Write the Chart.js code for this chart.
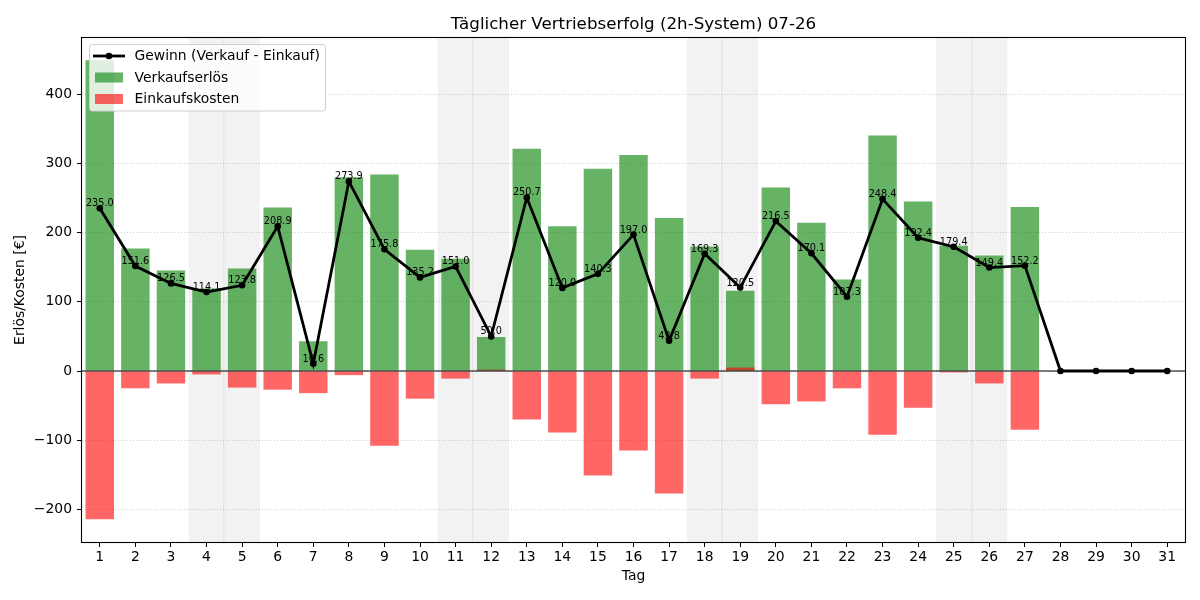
<!DOCTYPE html>
<html><head><meta charset="utf-8">
<script src="https://cdn.jsdelivr.net/npm/chart.js@4.4.0/dist/chart.umd.min.js"></script>
<style>html,body{margin:0;padding:0;background:#fff}canvas{display:block}</style>
</head><body>
<canvas id="c" width="1200" height="600"></canvas>
<script>
const days = ['1','2','3','4','5','6','7','8','9','10','11','12','13','14','15','16','17','18','19','20','21','22','23','24','25','26','27','28','29','30','31'];
const revenue = [449,177,145,119,148,236,43,280,284,175,162,49,321,209,292,312,221,180,116,265,214,132,340,245,181,167,237,0,0,0,0];
const cost = [214,25,18,5,24,27,32,6,108,40,11,-2,70,89,151,115,177,11,-5,48,44,25,92,53,2,18,85,0,0,0,0];
const profit = [235.0,151.6,126.5,114.1,123.8,208.9,10.6,273.9,175.8,135.2,151.0,50.0,250.7,120.0,140.3,197.0,43.8,169.3,120.5,216.5,170.1,107.3,248.4,192.4,179.4,149.4,152.2,0,0,0,0];
const yTicks = [-200,-100,0,100,200,300,400];
const weekendDays = ['4','5','11','12','18','19','25','26'];
const titleText = 'Täglicher Vertriebserfolg (2h-System) 07-26';
const xTitle = 'Tag';
const yTitle = 'Erlös/Kosten [€]';
const seriesNames = ['Gewinn (Verkauf - Einkauf)','Verkaufserlös','Einkaufskosten'];

const FONT = 'DejaVu Sans';
Chart.defaults.font.family = FONT;
Chart.defaults.color = '#000';

const GREEN = 'rgba(0,128,0,0.6)';
const RED = 'rgba(255,0,0,0.6)';

const decor = {
  id: 'decor',
  beforeDatasetsDraw(chart) {
    const {ctx, chartArea: a, scales: {x}} = chart;
    const half = (x.getPixelForValue(1) - x.getPixelForValue(0)) / 2;
    ctx.save();
    weekendDays.forEach(d => {
      const i = days.indexOf(d);
      const cx = x.getPixelForValue(i);
      ctx.fillStyle = 'rgba(128,128,128,0.1)';
      ctx.fillRect(cx - half, a.top, 2 * half, a.bottom - a.top);
      if (weekendDays.includes(days[i + 1])) {
        ctx.fillStyle = 'rgba(128,128,128,0.1)';
        ctx.fillRect(Math.round(cx + half) - 1, a.top, 1.5, a.bottom - a.top);
      }
    });
    ctx.restore();
  },
  beforeDatasetDraw(chart, args) {
    if (args.index !== 0) return;
    const {ctx, chartArea: a, scales: {y}} = chart;
    const py = y.getPixelForValue(0);
    ctx.save();
    ctx.strokeStyle = '#000';
    ctx.lineWidth = 1.1;
    ctx.beginPath();
    ctx.moveTo(a.left, py);
    ctx.lineTo(a.right, py);
    ctx.stroke();
    ctx.restore();
  },
  afterDatasetsDraw(chart) {
    const {ctx} = chart;
    const meta = chart.getDatasetMeta(0);
    ctx.save();
    ctx.font = '9.7px "' + FONT + '"';
    ctx.fillStyle = '#000';
    ctx.textAlign = 'center';
    ctx.textBaseline = 'alphabetic';
    profit.forEach((v, i) => {
      if (revenue[i] === 0 && cost[i] === 0) return;
      const p = meta.data[i];
      ctx.fillText(v.toFixed(1), p.x, p.y - 2);
    });
    ctx.restore();
  },
  afterDraw(chart) {
    const {ctx, chartArea: a} = chart;
    ctx.save();
    ctx.strokeStyle = '#000';
    ctx.lineWidth = 1.1;
    ctx.strokeRect(Math.round(a.left) - 0.5, Math.round(a.top) - 0.5, Math.round(a.right - a.left) + 1, Math.round(a.bottom - a.top) + 1);
    ctx.fillStyle = '#000';
    ctx.font = '16.7px "' + FONT + '"';
    ctx.textAlign = 'center';
    ctx.textBaseline = 'alphabetic';
    ctx.fillText(titleText, (a.left + a.right) / 2, 28.5);
    const lx = a.left + 7.5, ly = a.top + 6.5, lw = 236, lh = 66.5;
    ctx.beginPath();
    ctx.roundRect(lx, ly, lw, lh, 3);
    ctx.fillStyle = 'rgba(255,255,255,0.8)';
    ctx.fill();
    ctx.strokeStyle = '#d0d0d0';
    ctx.lineWidth = 1;
    ctx.stroke();
    const ds = chart.data.datasets;
    const rows = [56, 77.5, 99];
    ctx.font = '13.9px "' + FONT + '"';
    ctx.textAlign = 'left';
    ctx.textBaseline = 'middle';
    ds.forEach((d, k) => {
      const ry = rows[k];
      if (d.type === 'line') {
        ctx.strokeStyle = '#000';
        ctx.lineWidth = 2.8;
        ctx.beginPath();
        ctx.moveTo(93, ry); ctx.lineTo(125, ry);
        ctx.stroke();
        ctx.fillStyle = '#000';
        ctx.beginPath();
        ctx.arc(109, ry, 3.3, 0, Math.PI * 2);
        ctx.fill();
      } else {
        ctx.fillStyle = d.backgroundColor;
        ctx.fillRect(95, ry - 5, 28, 10);
      }
      ctx.fillStyle = '#000';
      ctx.fillText(d.label, 134.5, ry + 0.5);
    });
    ctx.restore();
  }
};

new Chart(document.getElementById('c'), {
  type: 'bar',
  data: {
    labels: days,
    datasets: [
      {
        type: 'line', label: seriesNames[0], data: profit, order: 0,
        borderColor: '#000', backgroundColor: '#000', borderWidth: 2.8,
        pointRadius: 3.3, pointBorderWidth: 0, pointBackgroundColor: '#000', tension: 0
      },
      {
        type: 'bar', label: seriesNames[1], data: revenue, order: 2,
        backgroundColor: GREEN, borderWidth: 0, grouped: false,
        barPercentage: 0.8, categoryPercentage: 1.0
      },
      {
        type: 'bar', label: seriesNames[2], data: cost.map(v => -v), order: 1,
        backgroundColor: RED, borderWidth: 0, grouped: false,
        barPercentage: 0.8, categoryPercentage: 1.0
      }
    ]
  },
  options: {
    responsive: false,
    devicePixelRatio: 1,
    animation: false,
    layout: {padding: {top: 38, left: 0, right: 15, bottom: 0}},
    plugins: {legend: {display: false}, tooltip: {enabled: false}, title: {display: false}},
    scales: {
      x: {
        offset: true,
        grid: {offset: false, drawOnChartArea: false, drawTicks: true, tickLength: 5, tickColor: '#000', tickWidth: 1},
        border: {display: false},
        ticks: {autoSkip: false, maxRotation: 0, minRotation: 0, padding: 2, color: '#000', font: {size: 13.9}},
        title: {display: true, text: xTitle, color: '#000', font: {size: 13.9}, padding: {top: 0, bottom: 15.5}},
        afterFit(s) { s.height = 58; }
      },
      y: {
        min: -247, max: 481,
        afterBuildTicks(s) { s.ticks = yTicks.map(v => ({value: v})); },
        grid: {color: 'rgba(176,176,176,0.6)', lineWidth: 1, drawTicks: true, tickLength: 5, tickColor: '#000', tickWidth: 1, tickBorderDash: []},
        border: {display: false, dash: [1.1, 1.9]},
        ticks: {padding: 5, color: '#000', font: {size: 13.9}, callback: v => String(v).replace('-', '\u2212')},
        title: {display: true, text: yTitle, color: '#000', font: {size: 13.9}, padding: {top: 12.5, bottom: 0}},
        afterFit(s) { s.width = 82; }
      }
    }
  },
  plugins: [decor]
});
</script>
</body></html>
